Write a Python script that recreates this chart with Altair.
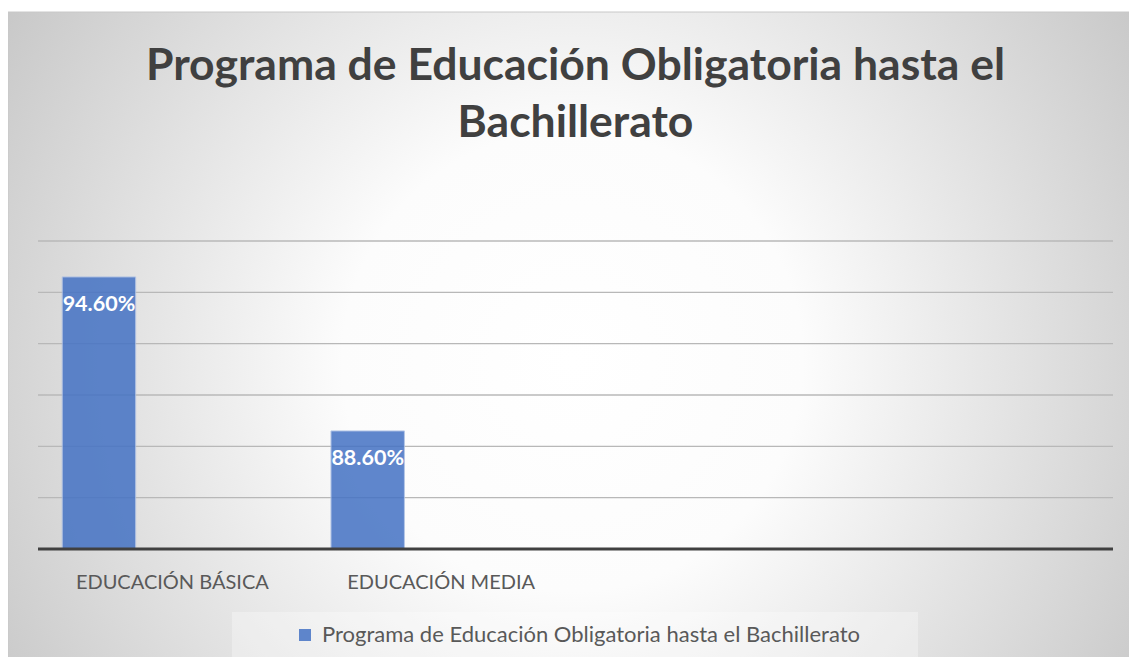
import altair as alt
import pandas as pd

title_lines = ["Programa de Educación Obligatoria hasta el", "Bachillerato"]
categories = ["EDUCACIÓN BÁSICA", "EDUCACIÓN MEDIA", "", " "]
values = [94.6, 88.6]
labels = ["94.60%", "88.60%"]
series_name = "Programa de Educación Obligatoria hasta el Bachillerato"
series_slots = [series_name, "Serie 2", "Serie 3"]
grid_values = [86, 88, 90, 92, 94, 96]
baseline_value = [84]

W, H = 1075, 308
PAD = {"left": 30, "top": 233, "right": 16, "bottom": 108}

df = pd.DataFrame({
    "cat": categories[:2],
    "val": values,
    "lab": labels,
    "series": [series_name] * 2,
})

xscale = alt.Scale(domain=categories, paddingInner=0, paddingOuter=0)
yscale = alt.Scale(domain=[84, 96], zero=False, nice=False)
xoff = alt.XOffset("series:N", scale=alt.Scale(domain=series_slots, paddingOuter=0.33, paddingInner=0))

one = alt.Data(values=[{"a": 1}])

bg = alt.Chart(one).mark_rect(
    color=alt.RadialGradient(
        gradient="radial", x1=0.5, y1=0.52, r1=0, x2=0.5, y2=0.52, r2=0.68,
        stops=[alt.GradientStop(offset=0, color="#ffffff"),
               alt.GradientStop(offset=0.3, color="#fcfcfc"),
               alt.GradientStop(offset=1, color="#bcbcbc")]),
    stroke="#c8c8c8", strokeWidth=1,
).encode(x=alt.value(-PAD["left"]), x2=alt.value(W + PAD["right"] + 8),
         y=alt.value(-PAD["top"] + 4), y2=alt.value(H + PAD["bottom"] + 8))

title = alt.Chart(one).mark_text(
    text=title_lines, fontSize=44.5, font="Lato", fontWeight="bold", color="#404040",
    align="center", baseline="alphabetic", lineHeight=57,
).encode(x=alt.value(W / 2), y=alt.value(-161))

legend_box = alt.Chart(one).mark_rect(
    color="#ffffff", opacity=0.3
).encode(x=alt.value(194), x2=alt.value(880), y=alt.value(371), y2=alt.value(416))

grid = alt.Chart(pd.DataFrame({"g": grid_values})).mark_rule(
    color="#b8b8b8", strokeWidth=1.3
).encode(y=alt.Y("g:Q", scale=yscale, axis=None))

bars = alt.Chart(df).mark_bar(opacity=0.85, stroke="#a9bde3", strokeWidth=1).encode(
    x=alt.X("cat:N", scale=xscale, sort=categories,
            axis=alt.Axis(title=None, labelAngle=0, ticks=False, domain=False, grid=False,
                          labelFontSize=20, labelColor="#595959", labelFont="Lato",
                          labelPadding=23, labelLimit=500, zindex=2)),
    xOffset=xoff,
    y=alt.Y("val:Q", scale=yscale, axis=None),
    y2=alt.datum(84),
    color=alt.Color("series:N", scale=alt.Scale(domain=[series_name], range=["#4472c4"]),
                    legend=alt.Legend(title=None, orient="none", legendX=256, legendY=383,
                                      symbolType="square", symbolSize=144, symbolOpacity=0.85,
                                      symbolStrokeWidth=0,
                                      labelFontSize=22, labelColor="#595959", labelFont="Lato",
                                      labelOffset=6, padding=0, labelLimit=900, zindex=2)),
)

text = alt.Chart(df).mark_text(
    color="white", fontSize=21.5, fontWeight="bold", font="Lato", baseline="middle", dy=28
).encode(
    x=alt.X("cat:N", scale=xscale, sort=categories),
    xOffset=xoff,
    y=alt.Y("val:Q", scale=yscale),
    text="lab:N",
)

base = alt.Chart(pd.DataFrame({"b": baseline_value})).mark_rule(
    color="#404040", strokeWidth=3
).encode(y=alt.Y("b:Q", scale=yscale))

chart = alt.layer(bg, title, legend_box, grid, bars, text, base).properties(
    width=W, height=H,
    padding=PAD,
    autosize=alt.AutoSizeParams(type="none"),
).configure_view(stroke=None)

chart.save("out.html", embed_options={"renderer": "svg", "actions": False})
